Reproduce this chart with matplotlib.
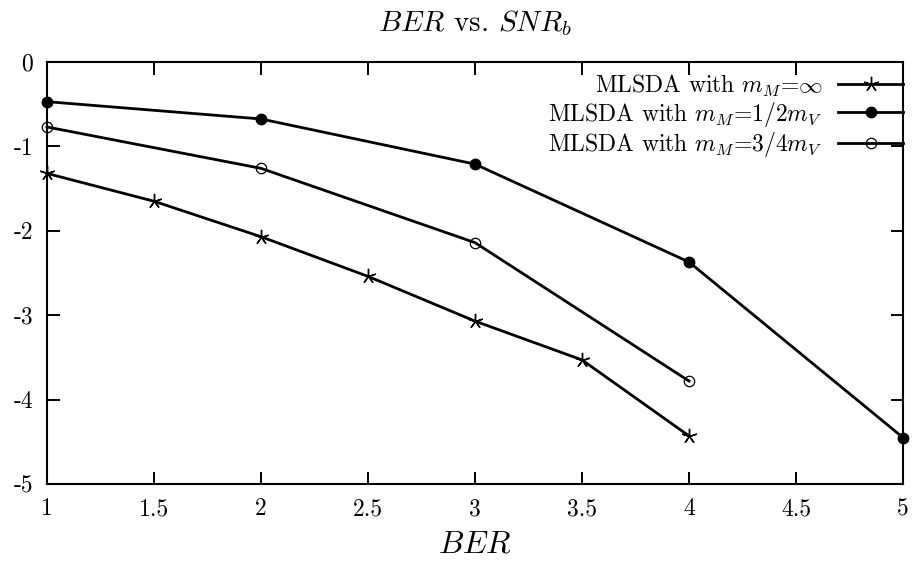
import matplotlib
matplotlib.use("Agg")
import matplotlib.pyplot as plt
from matplotlib.ticker import FixedLocator, FixedFormatter

plt.rcParams['font.family'] = 'serif'
plt.rcParams['font.serif'] = ['cmr10', 'DejaVu Serif']
plt.rcParams['mathtext.fontset'] = 'cm'
plt.rcParams['axes.unicode_minus'] = False

x_inf = [1, 1.5, 2, 2.5, 3, 3.5, 4]
y_inf = [-1.32, -1.65, -2.07, -2.54, -3.07, -3.53, -4.43]
x_half = [1, 2, 3, 4, 5]
y_half = [-0.47, -0.675, -1.21, -2.37, -4.45]
x_34 = [1, 2, 3, 4]
y_34 = [-0.77, -1.26, -2.14, -3.78]

labels = [r'MLSDA with $m_M$=$\infty$',
          r'MLSDA with $m_M$=$1/2m_V$',
          r'MLSDA with $m_M$=$3/4m_V$']

xticks = [1, 1.5, 2, 2.5, 3, 3.5, 4, 4.5, 5]
xticklabels = ['1', '1.5', '2', '2.5', '3', '3.5', '4', '4.5', '5']
yticks = [0, -1, -2, -3, -4, -5]
yticklabels = ['0', '-1', '-2', '-3', '-4', '-5']

fig = plt.figure(figsize=(9.13, 5.62), dpi=100)
ax = fig.add_axes([47/913, 1-484/562, (903-47)/913, (484-62)/562])

ax.plot(x_inf, y_inf, color='black', lw=2, marker=(5, 2, 0), markersize=11,
        markeredgewidth=1.0, label=labels[0], clip_on=False)
ax.plot(x_half, y_half, color='black', lw=2, marker='o', markersize=7.5,
        label=labels[1], clip_on=False)
ax.plot(x_34, y_34, color='black', lw=2, marker='o', markersize=7.5,
        markerfacecolor='none', markeredgewidth=0.9, label=labels[2], clip_on=False)

ax.set_xlim(1, 5)
ax.set_ylim(-5, 0)
ax.xaxis.set_major_locator(FixedLocator(xticks))
ax.xaxis.set_major_formatter(FixedFormatter(xticklabels))
ax.yaxis.set_major_locator(FixedLocator(yticks))
ax.yaxis.set_major_formatter(FixedFormatter(yticklabels))
ax.tick_params(direction='in', length=9, width=1.4, top=True, right=True,
               labelsize=17, pad=10)
for s in ax.spines.values():
    s.set_linewidth(1.5)

ax.set_title(r'$BER$ vs. $SNR_b$', fontsize=21, pad=22)
ax.set_xlabel(r'$BER$', fontsize=23, labelpad=8)

leg = ax.legend(loc='upper right', bbox_to_anchor=(1.0, 0.975), frameon=False,
                markerfirst=False, fontsize=17, handlelength=2.75,
                borderaxespad=0, labelspacing=0.05, handletextpad=0.65,
                borderpad=0)

fig.savefig('out.png', dpi=100)
